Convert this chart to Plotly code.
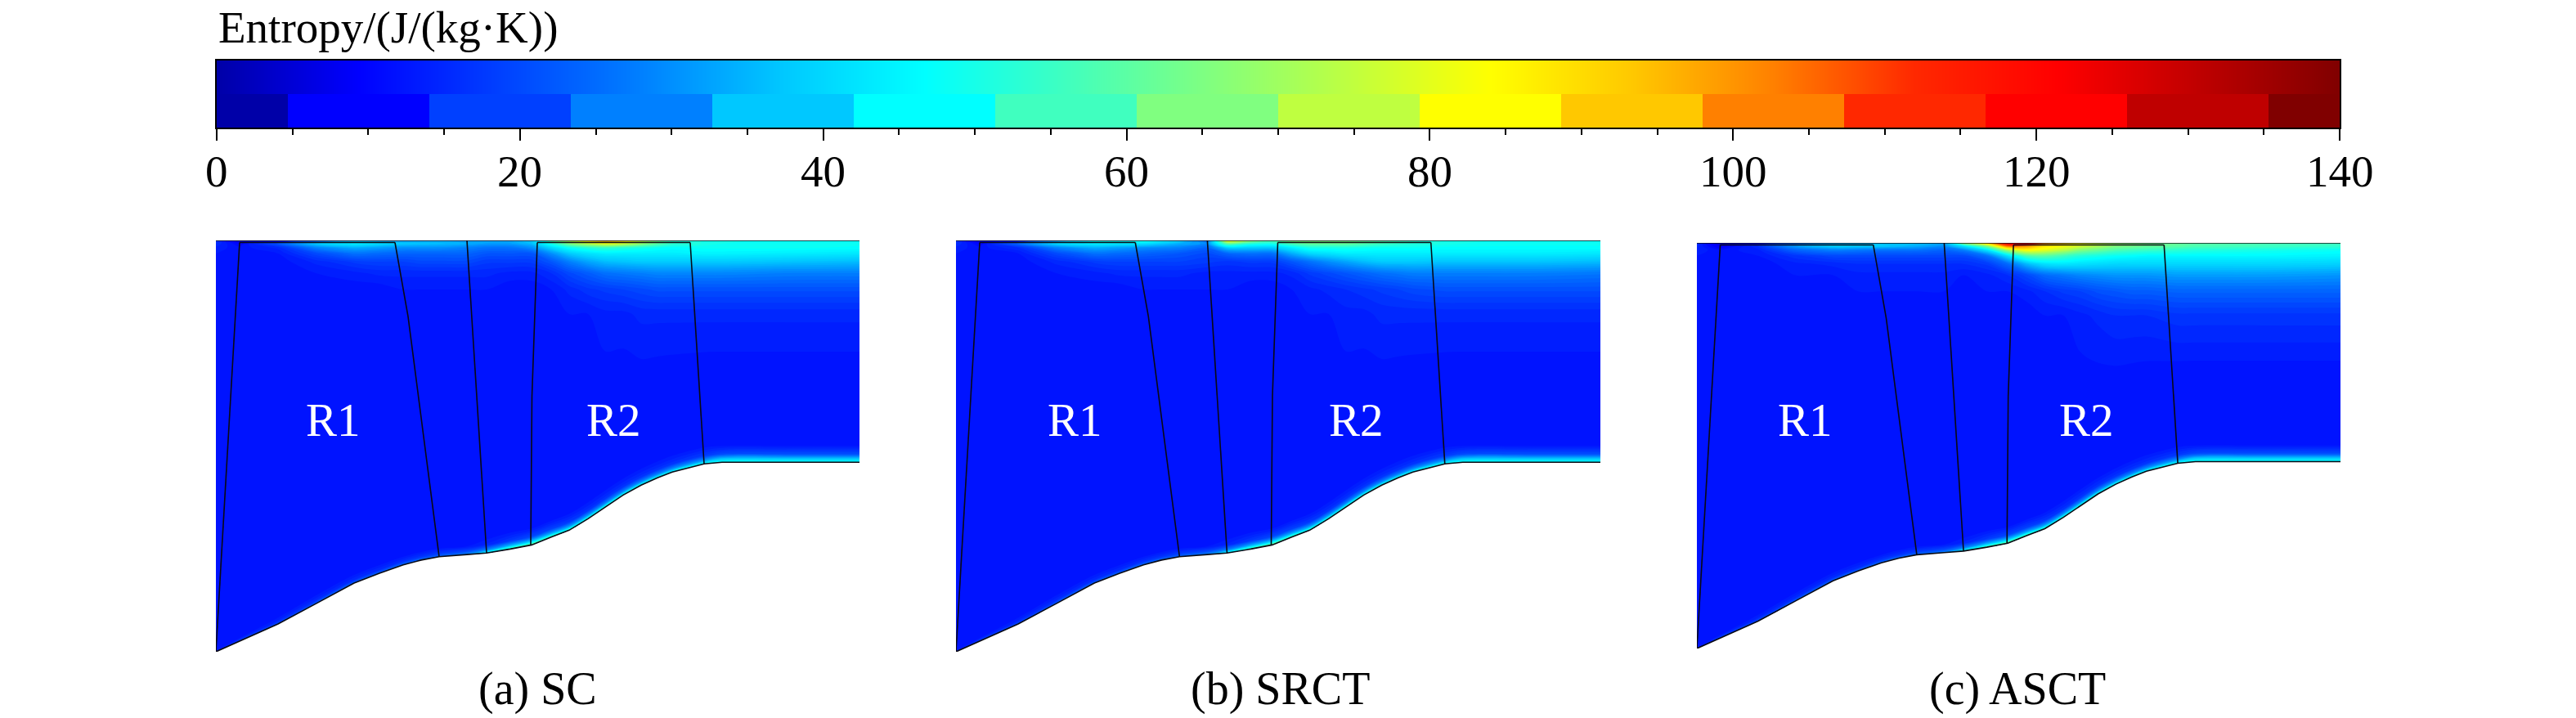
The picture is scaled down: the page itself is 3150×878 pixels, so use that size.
import plotly.graph_objects as go

W, H = 3150, 878

LEVEL_COLORS = ["#0000a8", "#0000ff", "#0040ff", "#0080ff", "#00c8ff", "#00ffff", "#40ffbf", "#80ff80",
                "#bfff40", "#ffff00", "#ffc800", "#ff8000", "#ff2800", "#ff0000", "#bf0000", "#800000"]
VMIN, VMAX = 0, 140
LEVEL_VALUES = [VMAX * i / 15 for i in range(16)]
STEP_EDGES = [0, 4.67, 14, 23.33, 32.67, 42, 51.33, 60.67, 70, 79.33, 88.67, 98, 107.33, 116.67, 126, 135.33, 140]
RAMP_VALUES = list(range(0, 141))
COLORSCALE = [[v / VMAX, c] for v, c in zip(LEVEL_VALUES, LEVEL_COLORS)]

# ---- meridional geometry (same machine in all panels)
STATION_X = [0, 29, 76, 122, 169, 200, 229, 251, 273, 307, 331, 360, 386, 410, 432, 455, 476, 498, 520, 540, 558, 597, 619, 700, 787]
HUB_Y = [502.5, 489.5, 468.6, 443.9, 418.6, 406.5, 396.4, 390.5, 386.4, 383.7, 381.8, 377, 372, 362.5, 354, 340, 325.5, 311, 299, 290, 283, 273, 271, 271, 271]
DEPTH_FROM_SHROUD = [0, 4, 9, 16, 26, 40, 60, 90]
HEIGHT_ABOVE_HUB = [40, 20, 10, 4, 0]

R1_LE = ([29, 0], [2.5, 502.5])
R1_TIP = ([29, 219], [2.5, 2.5])
R1_TE = ([219, 235, 273], [2.5, 93, 386.4])
STATOR = ([307, 331], [0, 381.8])
R2_LE = ([393, 386.5, 385], [2.5, 190, 372])
R2_TIP = ([393, 580], [2.5, 2.5])
R2_TE = ([580, 597], [2.5, 273])

# ---- entropy: one row per layer, one value per station
MID_VALUES = [12, 12, 12, 12, 12, 12, 12, 12, 12, 12, 12, 12, 12, 12, 12, 12, 12, 12, 12, 12, 12, 12, 12, 12, 12]
HUB_40 = [12, 12, 12, 12, 12, 12, 12, 12, 12, 12, 12, 12, 12, 12, 12, 12, 12, 12, 12, 12, 12, 12, 12, 12, 12]
HUB_20 = [12, 12, 12, 12, 12, 12, 12, 12, 12, 12, 12, 13, 13, 13, 13, 13, 13, 13, 13, 13, 13, 13, 13, 13, 13]
HUB_10 = [12, 12, 12, 13, 13, 13, 13, 13, 13, 13, 15, 18, 20, 19, 18, 17, 17, 17, 17, 17, 17, 18, 20, 21, 21]
HUB_4 = [12, 13, 15, 16, 16, 16, 17, 17, 18, 20, 28, 36, 40, 36, 34, 32, 30, 30, 30, 30, 30, 32, 38, 39, 39]
HUB_0 = [14, 20, 22, 24, 24, 25, 26, 26, 25, 30, 48, 60, 68, 60, 55, 52, 50, 50, 50, 49, 48, 48, 48, 47, 47]

SC_D0 = [18, 5, 5, 20, 34, 33, 32, 33, 34, 34, 34, 34, 38, 60, 75, 90, 100, 92, 78, 65, 55, 50, 50, 48, 48]
SC_D4 = [16, 10, 22, 38, 44, 41, 38, 37, 36, 34, 32, 32, 36, 50, 65, 74, 80, 76, 68, 60, 54, 50, 49, 48, 48]
SC_D9 = [14, 12, 15, 28, 34, 32, 30, 30, 30, 28, 26, 26, 30, 40, 48, 52, 54, 52, 50, 48, 47, 48, 48, 48, 47]
SC_D16 = [13, 12, 13, 20, 26, 25, 24, 24, 24, 24, 22, 22, 22, 30, 38, 42, 44, 44, 44, 44, 44, 45, 45, 44, 43]
SC_D26 = [12, 12, 12, 15, 18, 19, 19, 20, 20, 20, 18, 18, 18, 22, 28, 33, 36, 37, 38, 38, 38, 38, 38, 37, 36]
SC_D40 = [12, 12, 12, 13, 14, 15, 15, 15, 15, 15, 15, 14, 14, 16, 20, 23, 26, 27, 28, 29, 29, 29, 29, 28, 28]
SC_D60 = [12, 12, 12, 12, 12, 12, 13, 13, 13, 13, 13, 12, 12, 13, 15, 17, 18, 19, 20, 21, 21, 21, 21, 21, 21]
SC_D90 = [12, 12, 12, 12, 12, 12, 12, 12, 12, 12, 12, 12, 12, 12, 13, 13, 14, 14, 15, 15, 15, 15, 15, 15, 15]

SRCT_D0 = [18, 5, 10, 30, 50, 50, 50, 45, 40, 25, 84, 70, 60, 68, 68, 67, 66, 63, 60, 58, 56, 50, 50, 48, 48]
SRCT_D4 = [16, 10, 25, 40, 44, 43, 42, 38, 34, 30, 60, 52, 50, 58, 62, 62, 62, 59, 56, 54, 52, 50, 49, 48, 48]
SRCT_D9 = [14, 12, 16, 28, 34, 32, 30, 29, 28, 24, 38, 38, 38, 44, 50, 50, 50, 49, 48, 48, 48, 47, 47, 47, 47]
SRCT_D16 = [13, 12, 13, 20, 26, 25, 24, 23, 22, 20, 24, 26, 26, 34, 40, 42, 44, 44, 44, 44, 44, 44, 44, 44, 43]
SRCT_D26 = [12, 12, 12, 15, 18, 19, 19, 19, 19, 18, 17, 18, 18, 22, 26, 30, 33, 36, 38, 38, 38, 37, 37, 37, 36]
SRCT_D40 = [12, 12, 12, 13, 14, 15, 15, 15, 15, 14, 14, 14, 14, 15, 18, 20, 22, 24, 26, 27, 28, 28, 28, 28, 27]
SRCT_D60 = [12, 12, 12, 12, 12, 12, 13, 13, 13, 13, 13, 12, 12, 13, 14, 15, 16, 17, 18, 19, 20, 21, 21, 21, 21]
SRCT_D90 = [12, 12, 12, 12, 12, 12, 12, 12, 12, 12, 12, 12, 12, 12, 13, 13, 14, 14, 15, 15, 15, 15, 15, 15, 15]

ASCT_D0 = [16, 4, 8, 22, 32, 34, 36, 36, 36, 34, 70, 95, 125, 130, 105, 95, 85, 77, 70, 67, 65, 62, 60, 58, 56]
ASCT_D4 = [15, 8, 16, 32, 40, 39, 38, 36, 34, 30, 42, 65, 105, 100, 88, 83, 78, 72, 66, 64, 62, 60, 58, 56, 54]
ASCT_D9 = [14, 12, 14, 24, 28, 27, 26, 26, 26, 24, 28, 42, 70, 84, 80, 74, 66, 62, 58, 56, 55, 53, 52, 50, 48]
ASCT_D16 = [13, 12, 13, 17, 20, 20, 20, 20, 20, 20, 20, 26, 42, 58, 60, 56, 52, 50, 48, 47, 46, 46, 46, 46, 45]
ASCT_D26 = [12, 12, 12, 14, 15, 16, 16, 16, 16, 16, 16, 18, 25, 36, 42, 43, 42, 41, 40, 40, 40, 40, 40, 40, 39]
ASCT_D40 = [12, 12, 12, 13, 13, 14, 14, 14, 14, 14, 13, 14, 16, 20, 25, 27, 29, 30, 31, 31, 31, 32, 32, 32, 31]
ASCT_D60 = [12, 12, 12, 12, 12, 13, 13, 13, 13, 13, 13, 13, 13, 14, 16, 18, 19, 21, 22, 23, 23, 24, 24, 24, 24]
ASCT_D90 = [12, 12, 12, 12, 12, 12, 12, 12, 12, 12, 12, 12, 12, 12, 13, 13, 14, 15, 16, 16, 16, 17, 17, 17, 17]

SC_ROWS = [SC_D0, SC_D4, SC_D9, SC_D16, SC_D26, SC_D40, SC_D60, SC_D90]
SRCT_ROWS = [SRCT_D0, SRCT_D4, SRCT_D9, SRCT_D16, SRCT_D26, SRCT_D40, SRCT_D60, SRCT_D90]
ASCT_ROWS = [ASCT_D0, ASCT_D4, ASCT_D9, ASCT_D16, ASCT_D26, ASCT_D40, ASCT_D60, ASCT_D90]
LOWER_ROWS = [MID_VALUES, HUB_40, HUB_20, HUB_10, HUB_4, HUB_0]

CAPTIONS = ["(a) SC", "(b) SRCT", "(c) ASCT"]
CAPTION_X = [657, 1565, 2467]
TICK_VALUES = [0, 20, 40, 60, 80, 100, 120, 140]
LEGEND_TITLE = "Entropy/(J/(kg·K))"

# ---- layout of the three panels, in window pixels
PANELS = [
    dict(left=264, right=1051, top=294, bottom=797, xend=787, rows=SC_ROWS, r1=143, r2=486),
    dict(left=1169, right=1957, top=294, bottom=797, xend=787, rows=SRCT_ROWS, r1=145, r2=489),
    dict(left=2075, right=2862, top=297, bottom=793, xend=799, rows=ASCT_ROWS, r1=135, r2=484),
]
FONT = "Liberation Serif"
LINE = dict(color="#0a0a14", width=1.6)


def dom_x(a, b):
    return [a / W, b / W]


def dom_y(top, bottom):
    return [1 - bottom / H, 1 - top / H]


fig = go.Figure()
annotations = []
layout_axes = {}

for i, p in enumerate(PANELS):
    n = i + 1
    xname, yname = f"x{n}", f"y{n}"
    carpet_id = f"panel{n}"
    stations = STATION_X[:-1] + [p["xend"]]
    rows_x, rows_y = [], []
    for d in DEPTH_FROM_SHROUD:
        rows_x.append(stations)
        rows_y.append([d for _ in stations])
    rows_x.append(stations)
    rows_y.append([(DEPTH_FROM_SHROUD[-1] + (h - HEIGHT_ABOVE_HUB[0])) / 2 for h in HUB_Y])
    for d in HEIGHT_ABOVE_HUB:
        rows_x.append(stations)
        rows_y.append([h - d for h in HUB_Y])
    a_idx = list(range(len(stations)))
    b_idx = list(range(len(rows_x)))
    hidden = dict(showgrid=False, showline=False, showticklabels="none", startline=False, endline=False,
                  minorgridcount=0, tickmode="array", tickvals=[], title=dict(text=""))
    fig.add_trace(go.Carpet(carpet=carpet_id, a=a_idx, b=b_idx, x=rows_x, y=rows_y,
                            aaxis=hidden, baxis=hidden, xaxis=xname, yaxis=yname))
    fig.add_trace(go.Contourcarpet(carpet=carpet_id, a=a_idx, b=b_idx, z=p["rows"] + LOWER_ROWS,
                                   autocontour=False, contours=dict(start=1, end=139, size=1.5, coloring="fill", showlines=False),
                                   line=dict(width=0), colorscale=COLORSCALE, zmin=VMIN, zmax=VMAX,
                                   showscale=False, xaxis=xname, yaxis=yname))
    outlines = [R1_LE, R1_TIP, R1_TE, STATOR, R2_LE, R2_TIP, R2_TE,
                ([0, p["xend"]], [0, 0]), (stations, HUB_Y)]
    for xs, ys in outlines:
        fig.add_trace(go.Scatter(x=xs, y=ys, mode="lines", line=LINE, xaxis=xname, yaxis=yname,
                                 showlegend=False, hoverinfo="skip"))
    layout_axes[f"xaxis{n}"] = dict(domain=dom_x(p["left"], p["right"]), range=[0, p["xend"]], visible=False,
                                    anchor=yname, fixedrange=True, automargin=False)
    layout_axes[f"yaxis{n}"] = dict(domain=dom_y(p["top"], p["bottom"]), range=[502.5, 0], visible=False,
                                    anchor=xname, fixedrange=True, automargin=False)
    for label, xv in (("R1", p["r1"]), ("R2", p["r2"])):
        annotations.append(dict(text=label, x=xv, y=219, xref=xname, yref=yname, showarrow=False,
                                xanchor="center", yanchor="middle",
                                font=dict(family=FONT, size=57, color="white")))
    annotations.append(dict(text=CAPTIONS[i], x=CAPTION_X[i] / W, y=1 - 842 / H, xref="paper", yref="paper",
                            showarrow=False, xanchor="center", yanchor="middle",
                            font=dict(family=FONT, size=56, color="black")))

# ---- legend bar: continuous ramp above, 16 stepped levels below
fig.add_trace(go.Heatmap(x=RAMP_VALUES, y=[1, 2], z=[RAMP_VALUES, RAMP_VALUES], colorscale=COLORSCALE, zmin=VMIN, zmax=VMAX,
                         zsmooth="best", showscale=False, xaxis="x4", yaxis="y4", hoverinfo="skip"))
fig.add_trace(go.Heatmap(x=STEP_EDGES, y=[0, 1], z=[LEVEL_VALUES], colorscale=COLORSCALE, zmin=VMIN, zmax=VMAX,
                         showscale=False, xaxis="x4", yaxis="y4", hoverinfo="skip"))
layout_axes["xaxis4"] = dict(domain=dom_x(265, 2861), range=[VMIN, VMAX], anchor="y4", side="bottom",
                             tickmode="array", tickvals=TICK_VALUES, ticktext=[""] * len(TICK_VALUES),
                             ticks="outside", ticklen=14, tickwidth=2,
                             tickcolor="black", showline=True, linecolor="black", linewidth=2, mirror=True,
                             showgrid=False, zeroline=False, fixedrange=True, automargin=False,
                             minor=dict(dtick=5, ticks="outside", ticklen=7, tickwidth=2, tickcolor="black", showgrid=False))
layout_axes["yaxis4"] = dict(domain=dom_y(74, 156), range=[0, 2], anchor="x4", showticklabels=False, ticks="",
                             showline=True, linecolor="black", linewidth=2, mirror=True, showgrid=False,
                             zeroline=False, fixedrange=True, automargin=False)

for tv in TICK_VALUES:
    annotations.append(dict(text=str(tv), x=tv, xref="x4", y=1 - 209 / H, yref="paper", showarrow=False,
                            xanchor="center", yanchor="middle", font=dict(family=FONT, size=55, color="black")))

annotations.append(dict(text=LEGEND_TITLE, x=265 / W, y=1 - 33 / H, xref="paper", yref="paper", xanchor="left",
                        yanchor="middle", showarrow=False, font=dict(family=FONT, size=55, color="black")))

fig.update_layout(width=W, height=H, margin=dict(l=0, r=0, t=0, b=0), paper_bgcolor="white", plot_bgcolor="white",
                  showlegend=False, annotations=annotations, **layout_axes)
fig.write_html("out.html", post_script="document.body.style.margin='0';", config=dict(displayModeBar=False))
